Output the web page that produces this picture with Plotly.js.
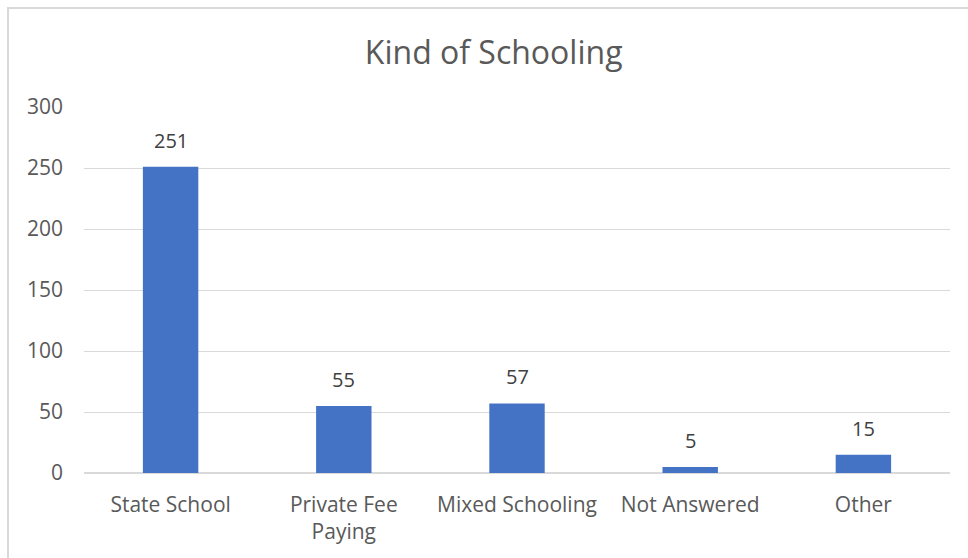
<!DOCTYPE html>
<html>
<head>
<meta charset="utf-8">
<script src="https://cdn.plot.ly/plotly-3.0.1.min.js"></script>
<style>
  html, body { margin: 0; padding: 0; background: #fff; overflow: hidden; }
  #frame { position: absolute; left: 7px; top: 7px; width: 990px; height: 570px; border: 2px solid #d9d9d9; box-sizing: border-box; }
  #chart { position: absolute; left: 0; top: 0; width: 968px; height: 558px; }
</style>
</head>
<body>
<div id="frame"></div>
<div id="chart"></div>
<script>
const categories = ["State School", "Private Fee Paying", "Mixed Schooling", "Not Answered", "Other"];
const tickLabels = ["State School", "Private Fee<br>Paying", "Mixed Schooling", "Not Answered", "Other"];
const counts = [251, 55, 57, 5, 15];
const yTicks = [0, 50, 100, 150, 200, 250, 300];

const font = "Open Sans, Noto Sans, sans-serif";

const labels = categories.map((c, i) => ({
  x: c, y: counts[i], xref: "x", yref: "y",
  text: String(counts[i]), showarrow: false,
  yanchor: "bottom", yshift: 11,
  font: { family: font, size: 20, color: "#404040" }
}));

Plotly.newPlot("chart", [{
  type: "bar",
  x: categories,
  y: counts,
  marker: { color: "#4472c4" },
  hoverinfo: "skip"
}], {
  width: 968,
  height: 558,
  paper_bgcolor: "rgba(0,0,0,0)",
  plot_bgcolor: "rgba(0,0,0,0)",
  margin: { l: 84, r: 18, t: 107, b: 85 },
  bargap: 0.68,
  showlegend: false,
  annotations: labels,
  title: {
    text: "Kind of Schooling",
    font: { family: font, size: 32, color: "#595959" },
    x: 0.51, xanchor: "center",
    y: 0.905, yanchor: "middle",
    xref: "container"
  },
  xaxis: {
    type: "category",
    tickvals: categories,
    ticktext: tickLabels,
    tickfont: { family: font, size: 21, color: "#595959" },
    showgrid: false,
    showline: false,
    zeroline: false,
    ticks: "",
    ticklabelstandoff: 17
  },
  yaxis: {
    range: [0, 300],
    tickvals: yTicks,
    tickfont: { family: font, size: 21, color: "#595959" },
    showgrid: true,
    gridcolor: "#d9d9d9",
    gridwidth: 1,
    zeroline: true,
    zerolinecolor: "#d9d9d9",
    zerolinewidth: 2,
    showline: false,
    ticks: "",
    ticklabelstandoff: 20
  }
}, { displayModeBar: false, staticPlot: true });
</script>
</body>
</html>
